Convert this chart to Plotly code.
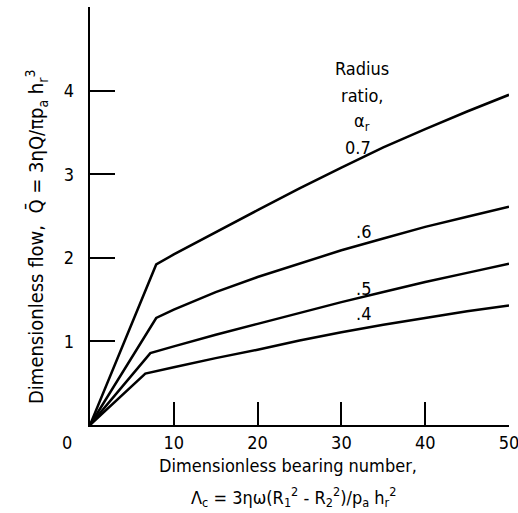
import plotly.graph_objects as go

# Data
x_07 = [0, 7.9, 10, 15, 20, 25, 30, 35, 40, 45, 50]
y_07 = [0, 1.92, 2.04, 2.31, 2.57, 2.83, 3.08, 3.32, 3.54, 3.75, 3.95]

x_06 = [0, 7.9, 10, 15, 20, 25, 30, 35, 40, 45, 50]
y_06 = [0, 1.28, 1.38, 1.59, 1.77, 1.93, 2.09, 2.23, 2.37, 2.49, 2.61]

x_05 = [0, 7.2, 10, 15, 20, 25, 30, 35, 40, 45, 50]
y_05 = [0, 0.86, 0.94, 1.08, 1.21, 1.34, 1.47, 1.59, 1.71, 1.82, 1.93]

x_04 = [0, 6.6, 10, 15, 20, 25, 30, 35, 40, 45, 50]
y_04 = [0, 0.615, 0.69, 0.80, 0.90, 1.01, 1.11, 1.20, 1.28, 1.36, 1.43]

series_labels = ["0.7", ".6", ".5", ".4"]
label_x = [32.0, 32.6, 32.6, 32.6]
label_y = [3.32, 2.32, 1.63, 1.33]

x_ticks = [10, 20, 30, 40, 50]
y_ticks = [1, 2, 3, 4]

FONT = "DejaVu Sans Condensed, Liberation Sans Narrow, sans-serif"
FS = 18
BLACK = "black"
NB = "\u00a0"

W, H = 518, 513
L, R, T, B = 90, 9, 7, 88
pw, ph = W - L - R, H - T - B


def px(xp):
    return (xp - L) / pw


def py(yp):
    return (H - B - yp) / ph


def note(x, y, text, ref="paper", size=FS, angle=0):
    if ref == "paper":
        x, y = px(x), py(y)
        xr, yr = "paper", "paper"
    else:
        xr, yr = "x", "y"
    fig.add_annotation(x=x, y=y, xref=xr, yref=yr, text=text, showarrow=False,
                       xanchor="center", yanchor="middle", textangle=angle,
                       font=dict(family=FONT, size=size, color=BLACK))


fig = go.Figure()
for xs, ys in [(x_07, y_07), (x_06, y_06), (x_05, y_05), (x_04, y_04)]:
    fig.add_trace(go.Scatter(x=xs, y=ys, mode="lines",
                             line=dict(color=BLACK, width=2.5),
                             showlegend=False, hoverinfo="skip"))

for t, ax, ay in zip(series_labels, label_x, label_y):
    note(ax, ay, t, ref="data")

for t, ay in [("Radius", 4.27), ("ratio,", 3.94), ("α<sub>r</sub>", 3.63)]:
    note(32.4, ay, t, ref="data")

# origin zero label
note(67, 442, "0")

note(288, 466, "Dimensionless bearing number,")
note(293, 497,
     "Λ<sub>c</sub> = 3ηω(R<sub>1</sub><sup>2</sup> - R<sub>2</sub><sup>2</sup>)/p<sub>a</sub> h<sub>r</sub><sup>2</sup>")
note(36, 237, "Dimensionless flow,  Q̄ = 3ηQ/πp<sub>a</sub> h<sub>r</sub><sup>3</sup>",
     size=20, angle=-90)

fig.update_xaxes(range=[0, 50], tickvals=x_ticks, ticktext=[str(v) for v in x_ticks],
                 ticks="inside", ticklen=23, tickwidth=2, tickcolor=BLACK,
                 showline=True, linecolor=BLACK, linewidth=2, showgrid=False,
                 zeroline=False, automargin=False, ticklabeloverflow="allow",
                 tickfont=dict(family=FONT, size=FS, color=BLACK))
fig.update_yaxes(range=[0, 5], tickvals=y_ticks, ticktext=[str(v) + NB + NB for v in y_ticks],
                 ticks="inside", ticklen=25, tickwidth=2, tickcolor=BLACK,
                 showline=True, linecolor=BLACK, linewidth=2, showgrid=False,
                 zeroline=False, automargin=False,
                 tickfont=dict(family=FONT, size=FS, color=BLACK))

fig.update_layout(width=W, height=H, margin=dict(l=L, r=R, t=T, b=B),
                  plot_bgcolor="white", paper_bgcolor="white")

fig.write_html("out.html", config={"displayModeBar": False},
               post_script="document.body.style.margin='0';")
